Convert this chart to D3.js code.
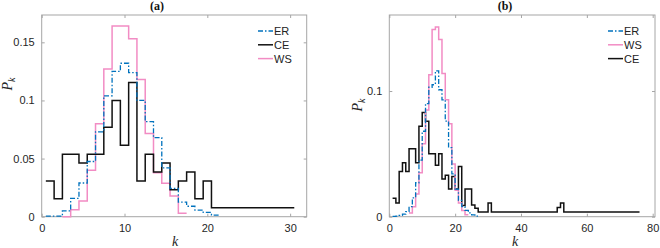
<!DOCTYPE html>
<html>
<head>
<meta charset="utf-8">
<script src="https://cdn.jsdelivr.net/npm/d3@7"></script>
<style>
  body { margin: 0; background: #fff; }
  text { font-family: "Liberation Sans", Arial, sans-serif; }
</style>
</head>
<body>
<svg width="660" height="248" id="mainsvg"></svg>
<script>
// panel (a): values start at k = kStart, one per integer k
const erA = [0.0005, 0.0005, 0.005, 0.0158, 0.029, 0.0475, 0.073, 0.104, 0.125, 0.132,
             0.124, 0.100, 0.0817, 0.068, 0.042, 0.0244, 0.0126, 0.009, 0.0057, 0.0037, 0.0014];
const ceA = [0.0308, 0.0154, 0.0538, 0.0538, 0.0462, 0.0538, 0.0538, 0.0769, 0.1, 0.0615,
             0.1154, 0.0308, 0.0538, 0.0385, 0.0462, 0.0231, 0.0308, 0.0385, 0.0154, 0.0308,
             0.0077, 0.0077, 0.0077, 0.0077, 0.0077, 0.0077, 0.0077, 0.0077, 0.0077, 0.0077];
const wsA = [0, 0.006, 0.0135, 0.040, 0.080, 0.127, 0.164, 0.164, 0.153, 0.118,
             0.0716, 0.0378, 0.0287, 0.0178, 0.003];

// panel (b)
const erB = [0.0003, 0.0005, 0.001, 0.002, 0.004, 0.008, 0.015, 0.027, 0.045, 0.068,
             0.09, 0.103, 0.105, 0.116, 0.101, 0.093, 0.076, 0.055, 0.034, 0.022,
             0.013, 0.008, 0.005, 0.003, 0.0015, 0.0005];
const wsB = [0.003, 0.008, 0.018, 0.035, 0.058, 0.085, 0.113, 0.149, 0.151, 0.141,
             0.114, 0.093, 0.074, 0.042, 0.021, 0.011, 0.005, 0.0015];
const ceB = [0.0146, 0.011, 0.036, 0.043, 0.036, 0.054, 0.054, 0.043, 0.072, 0.083,
             0.076, 0.050, 0.050, 0.041, 0.050, 0.030, 0.033, 0.022, 0.032, 0.022,
             0.040, 0.009, 0.022, 0.022, 0.0093, 0.0067, 0.0037, 0.0037, 0.0037, 0.011,
             0.0037, 0.0037, 0.0037, 0.0037, 0.0037, 0.0037, 0.0037, 0.0037, 0.0037, 0.0037,
             0.0037, 0.0037, 0.0037, 0.0037, 0.0037, 0.0037, 0.0037, 0.0037, 0.0037, 0.0037,
             0.0074, 0.011,
             0.0037, 0.0037, 0.0037, 0.0037, 0.0037, 0.0037, 0.0037, 0.0037, 0.0037, 0.0037,
             0.0037, 0.0037, 0.0037, 0.0037, 0.0037, 0.0037, 0.0037, 0.0037, 0.0037, 0.0037,
             0.0037, 0.0037, 0.0037];

const xTicksA = [0, 10, 20, 30];
const yTicksA = [0, 0.05, 0.1, 0.15];
const xTicksB = [0, 20, 40, 60, 80];
const yTicksB = [0, 0.1];

const colors = { ER: '#0072BD', CE: '#111111', WS: '#F28CC4' };
const dashes = { ER: '5,2,1.5,2', CE: null, WS: null };

const svg = d3.select('#mainsvg');

function panel(cfg) {
    const x = d3.scaleLinear().domain(cfg.xDomain).range([cfg.left, cfg.right]);
    const y = d3.scaleLinear().domain(cfg.yDomain).range([cfg.bottom, cfg.top]);
    const g = svg.append('g');

    // box
    g.append('rect')
        .attr('x', cfg.left).attr('y', cfg.top)
        .attr('width', cfg.right - cfg.left).attr('height', cfg.bottom - cfg.top)
        .attr('fill', 'none').attr('stroke', '#a6a6a6').attr('stroke-width', 1);

    // axes with inward ticks, mirrored on top/right
    const fmt = d => d === 0 ? '0' : String(d);
    const xb = g.append('g').attr('transform', `translate(0,${cfg.bottom})`)
        .call(d3.axisBottom(x).tickValues(cfg.xTicks).tickSizeInner(-3).tickSizeOuter(0).tickPadding(8).tickFormat(fmt));
    const yl = g.append('g').attr('transform', `translate(${cfg.left},0)`)
        .call(d3.axisLeft(y).tickValues(cfg.yTicks).tickSizeInner(-3).tickSizeOuter(0).tickPadding(7).tickFormat(fmt));
    const xt = g.append('g').attr('transform', `translate(0,${cfg.top})`)
        .call(d3.axisTop(x).tickValues(cfg.xTicks).tickSizeInner(-3).tickSizeOuter(0).tickFormat(''));
    const yr = g.append('g').attr('transform', `translate(${cfg.right},0)`)
        .call(d3.axisRight(y).tickValues(cfg.yTicks).tickSizeInner(-3).tickSizeOuter(0).tickFormat(''));
    [xb, yl, xt, yr].forEach(a => {
        a.select('.domain').remove();
        a.selectAll('line').attr('stroke', '#a6a6a6');
        a.selectAll('text').attr('fill', '#262626').style('font-size', '11px')
            .style('font-family', '"Liberation Sans", Arial, sans-serif');
    });

    // stairs
    const line = d3.line().x(d => x(d[0])).y(d => y(d[1])).curve(d3.curveStepAfter);
    cfg.series.forEach(s => {
        const pts = s.values.map((v, i) => [s.kStart + i + cfg.offset, v]);
        pts.push([s.kStart + s.values.length + cfg.offset, s.values[s.values.length - 1]]);
        g.append('path').attr('d', line(pts))
            .attr('fill', 'none')
            .attr('stroke', colors[s.name])
            .attr('stroke-width', s.name === 'ER' ? 1.3 : 1.5)
            .attr('stroke-dasharray', dashes[s.name]);
    });

    // legend
    cfg.legendOrder.forEach((name, i) => {
        const ly = cfg.legendY + i * 13.8;
        g.append('line')
            .attr('x1', cfg.legendX).attr('x2', cfg.legendX + 15)
            .attr('y1', ly).attr('y2', ly)
            .attr('stroke', colors[name]).attr('stroke-width', name === 'ER' ? 1.3 : 1.5)
            .attr('stroke-dasharray', dashes[name]);
        g.append('text').attr('x', cfg.legendX + 16).attr('y', ly + 4)
            .attr('fill', '#222').style('font-size', '11px').text(name);
    });

    // title
    g.append('text').attr('x', cfg.titleX).attr('y', 10)
        .attr('text-anchor', 'middle')
        .style('font-family', '"Liberation Serif", "Times New Roman", serif')
        .style('font-weight', 'bold').style('font-size', '12px')
        .attr('fill', '#111').text(cfg.title);

    // x label
    g.append('text').attr('x', cfg.xLabelX).attr('y', 246)
        .attr('text-anchor', 'middle')
        .style('font-family', '"Liberation Serif", "Times New Roman", serif')
        .style('font-style', 'italic').style('font-size', '14px')
        .attr('fill', '#262626').text('k');

    // y label P_k
    const yt = g.append('text')
        .attr('transform', `translate(${cfg.yLabelX},${cfg.yLabelY}) rotate(-90)`)
        .attr('text-anchor', 'middle')
        .style('font-family', '"Liberation Serif", "Times New Roman", serif')
        .style('font-style', 'italic').style('font-size', '14px')
        .attr('fill', '#262626');
    yt.append('tspan').text('P');
    yt.append('tspan').attr('dy', 3).style('font-size', '10px').text('k');
}

panel({
    left: 41.7, right: 306.7, top: 15, bottom: 216.7,
    xDomain: [0, 32], yDomain: [0, 0.1735],
    xTicks: xTicksA, yTicks: yTicksA, offset: -0.5,
    series: [
        { name: 'WS', kStart: 3, values: wsA },
        { name: 'CE', kStart: 1, values: ceA },
        { name: 'ER', kStart: 1, values: erA }
    ],
    legendOrder: ['ER', 'CE', 'WS'], legendX: 258, legendY: 31,
    title: '(a)', titleX: 157, xLabelX: 175, yLabelX: 12, yLabelY: 84
});

panel({
    left: 389.3, right: 655, top: 15, bottom: 216.7,
    xDomain: [0, 80.7], yDomain: [0, 0.1605],
    xTicks: xTicksB, yTicks: yTicksB, offset: 0,
    series: [
        { name: 'CE', kStart: 1, values: ceB },
        { name: 'WS', kStart: 6, values: wsB },
        { name: 'ER', kStart: 1, values: erB }
    ],
    legendOrder: ['ER', 'WS', 'CE'], legendX: 608, legendY: 31,
    title: '(b)', titleX: 505, xLabelX: 515, yLabelX: 362, yLabelY: 105
});
</script>
</body>
</html>
